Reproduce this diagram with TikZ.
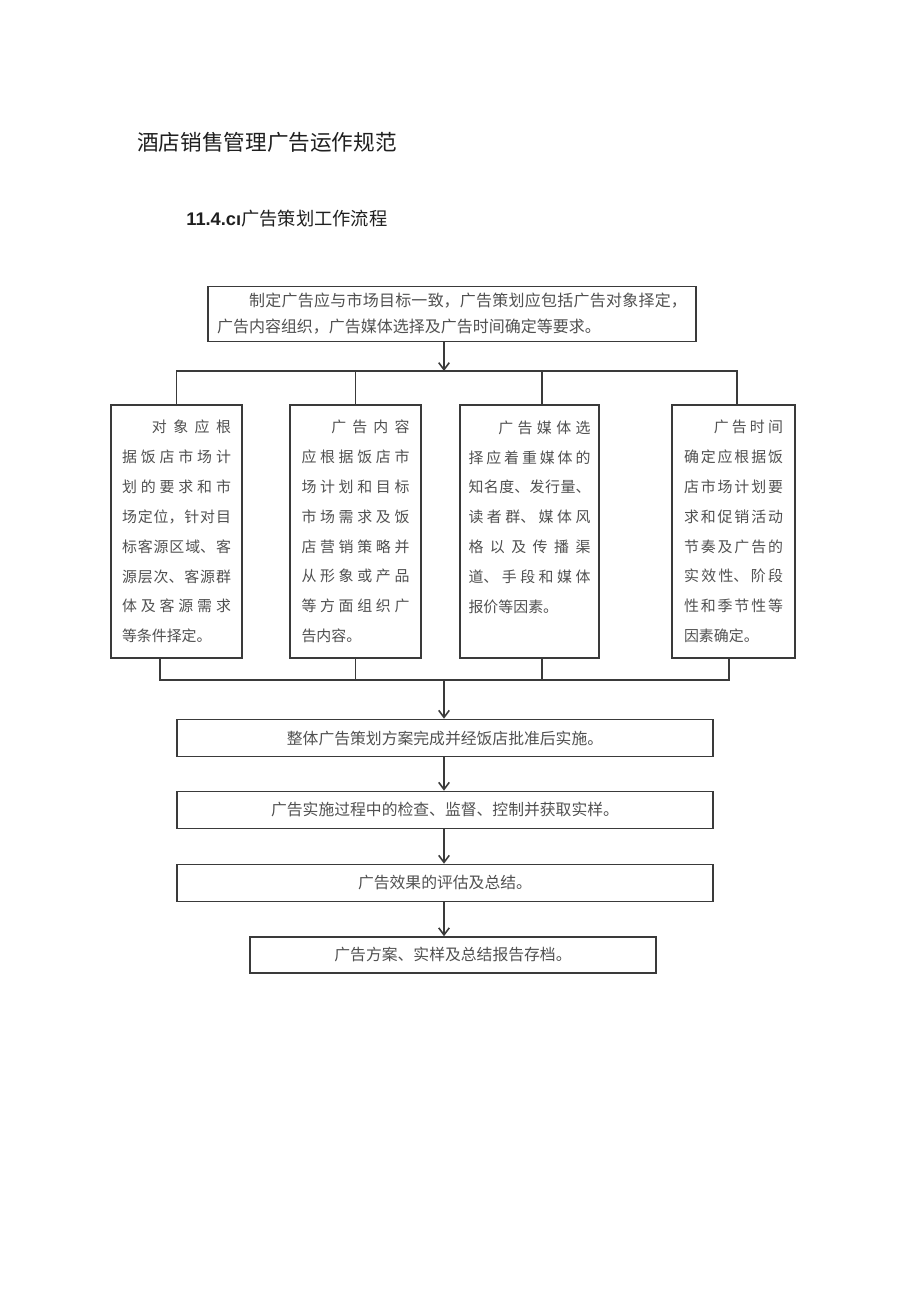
\documentclass[tikz,border=0pt]{standalone}
\usepackage{fontspec}
\setmainfont{Noto Sans CJK SC}
\newfontfamily\latinfont{Liberation Sans}
\usetikzlibrary{arrows.meta}
\XeTeXlinebreaklocale "zh"
\XeTeXlinebreakskip = 0pt plus 4pt

\definecolor{linegray}{HTML}{3A3A3A}
\definecolor{textgray}{HTML}{505050}

\tikzset{
  box/.style={draw=linegray, line width=0.9pt, inner sep=0pt, text=textgray},
  tall/.style={box, minimum height=5.06cm, align=justify, font=\fontsize{8.5}{17}\selectfont},
  wide/.style={box, minimum width=10.72cm, minimum height=0.74cm, font=\fontsize{9}{11}\selectfont},
  flow/.style={draw=linegray, line width=0.9pt, -{Straight Barb[length=4pt, width=6pt]}},
  bus/.style={draw=linegray, line width=0.9pt}
}

\begin{document}
\begin{tikzpicture}[x=0.02cm, y=-0.02cm]
  \useasboundingbox (0,0) rectangle (920,1301);

  % titles
  \node[anchor=west, inner sep=0pt, text=black!88, font=\fontsize{12.3}{14}\selectfont] (title) at (137,142) {酒店销售管理广告运作规范};
  \node[anchor=west, inner sep=0pt, text=black!88, font=\fontsize{10.4}{12}\selectfont] (sub) at (186,219) {{\latinfont\bfseries 11.4.cı}广告策划工作流程};

  % planning requirement
  \node[box, minimum width=9.76cm, minimum height=1.1cm, text width=9.4cm, align=justify, font=\fontsize{9.1}{14.8}\selectfont] (goal) at (452,314)
    {\hspace*{2em}制定广告应与市场目标一致，广告策划应包括广告对象择定，\linebreak 广告内容组织，广告媒体选择及广告时间确定等要求。};

  % four planning parts
  \node[tall, minimum width=2.62cm, text width=2.18cm] (target) at (176.5,531.5)
    {\hspace*{2em}对象应根\linebreak 据饭店市场计\linebreak 划的要求和市\linebreak 场定位，针对目\linebreak 标客源区域、客\linebreak 源层次、客源群\linebreak 体及客源需求\linebreak 等条件择定。};
  \node[tall, minimum width=2.62cm, text width=2.16cm] (content) at (355.5,531.5)
    {\hspace*{2em}广告内容\linebreak 应根据饭店市\linebreak 场计划和目标\linebreak 市场需求及饭\linebreak 店营销策略并\linebreak 从形象或产品\linebreak 等方面组织广\linebreak 告内容。};
  \node[tall, minimum width=2.78cm, text width=2.44cm] (media) at (529.5,531.5)
    {\hspace*{2em}广告媒体选\linebreak 择应着重媒体的\linebreak 知名度、发行量、\linebreak 读者群、媒体风\linebreak 格以及传播渠\linebreak 道、手段和媒体\linebreak 报价等因素。\\ \mbox{}};
  \node[tall, minimum width=2.46cm, text width=1.98cm] (timing) at (733.5,531.5)
    {\hspace*{2em}广告时间\linebreak 确定应根据饭\linebreak 店市场计划要\linebreak 求和促销活动\linebreak 节奏及广告的\linebreak 实效性、阶段\linebreak 性和季节性等\linebreak 因素确定。};

  % later steps
  \node[wide] (approve) at (445,738) {整体广告策划方案完成并经饭店批准后实施。};
  \node[wide] (check) at (445,810) {广告实施过程中的检查、监督、控制并获取实样。};
  \node[wide] (evaluate) at (445,883) {广告效果的评估及总结。};
  \node[wide, minimum width=8.12cm, minimum height=0.72cm] (archive) at (453,955) {广告方案、实样及总结报告存档。};

  % upper bus
  \coordinate (split) at (444,371);
  \coordinate (splitm) at (542,371);
  \coordinate (splitr) at (737,371);
  \draw[flow] (goal.south -| split) -- (split);
  \draw[bus] (target.north) |- (splitr) -- (splitr |- timing.north);
  \draw[bus] (content.north) -- (content.north |- split);
  \draw[bus] (splitm) -- (splitm |- media.north);

  % lower bus
  \coordinate (joinl) at (160,680);
  \coordinate (joinm) at (542,680);
  \coordinate (joinr) at (729,680);
  \coordinate (join) at (444,680);
  \draw[bus] (joinl |- target.south) -- (joinl) -- (joinr) -- (joinr |- timing.south);
  \draw[bus] (content.south) -- (content.south |- join);
  \draw[bus] (joinm |- media.south) -- (joinm);
  \draw[flow] (join) -- (join |- approve.north);
  \draw[flow] (approve.south -| join) -- (check.north -| join);
  \draw[flow] (check.south -| join) -- (evaluate.north -| join);
  \draw[flow] (evaluate.south -| join) -- (archive.north -| join);
\end{tikzpicture}
\end{document}
